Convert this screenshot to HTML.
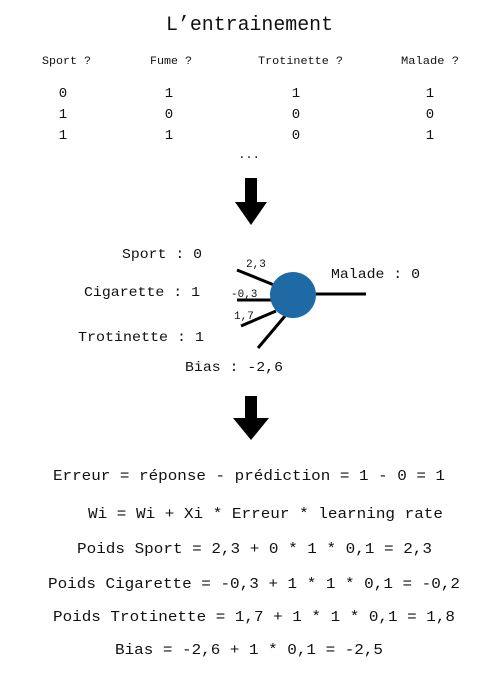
<!DOCTYPE html>
<html><head><meta charset="utf-8"><style>
html,body{margin:0;padding:0;background:#fff;}
svg{display:block;}
text{font-family:"Liberation Mono",monospace;fill:#111;}
</style></head><body>
<svg width="500" height="700" viewBox="0 0 500 700">
<text x="166" y="30" font-size="20" textLength="167" lengthAdjust="spacingAndGlyphs">L’entrainement</text>
<g font-size="11">
<text x="42" y="64" textLength="49" lengthAdjust="spacingAndGlyphs">Sport ?</text>
<text x="150" y="64" textLength="42" lengthAdjust="spacingAndGlyphs">Fume ?</text>
<text x="258" y="64" textLength="85" lengthAdjust="spacingAndGlyphs">Trotinette ?</text>
<text x="401" y="64" textLength="58" lengthAdjust="spacingAndGlyphs">Malade ?</text>
</g>
<g font-size="14" text-anchor="middle">
<text x="63" y="97">0</text><text x="169" y="97">1</text><text x="296" y="97">1</text><text x="430" y="97">1</text>
<text x="63" y="118">1</text><text x="169" y="118">0</text><text x="296" y="118">0</text><text x="430" y="118">0</text>
<text x="63" y="139">1</text><text x="169" y="139">1</text><text x="296" y="139">0</text><text x="430" y="139">1</text>
<text x="249" y="158" font-size="12">...</text>
</g>
<polygon points="245,178 257,178 257,202 267,202 251,225 235,202 245,202" fill="#000"/>
<g stroke="#000" stroke-width="3">
<line x1="237" y1="270" x2="274" y2="285"/>
<line x1="237" y1="300" x2="272" y2="300"/>
<line x1="241" y1="326" x2="276" y2="311"/>
<line x1="258" y1="348" x2="285" y2="316"/>
<line x1="314" y1="294" x2="366" y2="294"/>
</g>
<circle cx="293" cy="295" r="23" fill="#1f6aa5"/>
<g font-size="14">
<text x="122" y="258" textLength="80" lengthAdjust="spacingAndGlyphs">Sport : 0</text>
<text x="84" y="296" textLength="116" lengthAdjust="spacingAndGlyphs">Cigarette : 1</text>
<text x="78" y="341" textLength="126" lengthAdjust="spacingAndGlyphs">Trotinette : 1</text>
<text x="185" y="371" textLength="98" lengthAdjust="spacingAndGlyphs">Bias : -2,6</text>
<text x="331" y="278" textLength="89" lengthAdjust="spacingAndGlyphs">Malade : 0</text>
</g>
<g font-size="11">
<text x="246" y="267">2,3</text>
<text x="231" y="297">-0,3</text>
<text x="234" y="319">1,7</text>
</g>
<polygon points="245,396 257,396 257,418 269,418 251,440 233,418 245,418" fill="#000"/>
<g font-size="15">
<text x="53" y="480" textLength="392" lengthAdjust="spacingAndGlyphs">Erreur = réponse - prédiction = 1 - 0 = 1</text>
<text x="88" y="518" textLength="355" lengthAdjust="spacingAndGlyphs">Wi = Wi + Xi * Erreur * learning rate</text>
<text x="77" y="553" textLength="355" lengthAdjust="spacingAndGlyphs">Poids Sport = 2,3 + 0 * 1 * 0,1 = 2,3</text>
<text x="48" y="588" textLength="412" lengthAdjust="spacingAndGlyphs">Poids Cigarette = -0,3 + 1 * 1 * 0,1 = -0,2</text>
<text x="53" y="621" textLength="402" lengthAdjust="spacingAndGlyphs">Poids Trotinette = 1,7 + 1 * 1 * 0,1 = 1,8</text>
<text x="115" y="654" textLength="268" lengthAdjust="spacingAndGlyphs">Bias = -2,6 + 1 * 0,1 = -2,5</text>
</g>
</svg>
</body></html>
